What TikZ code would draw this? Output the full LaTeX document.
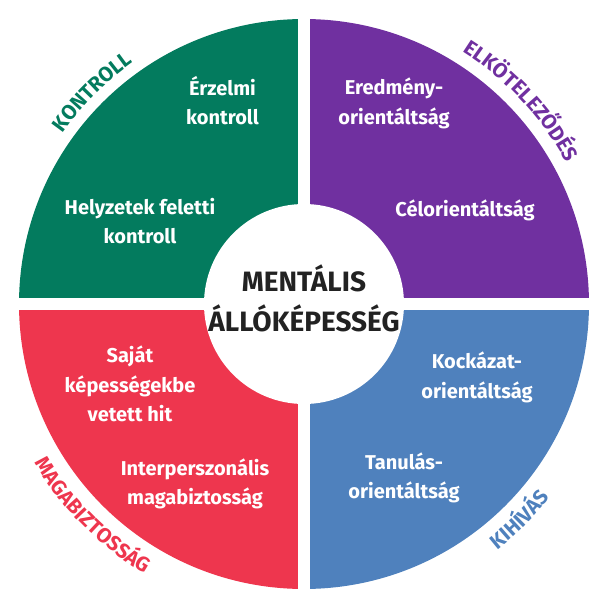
\documentclass[tikz,border=0pt]{standalone}
\usepackage{fontspec}
\setmainfont{Fira Sans}
\usepackage{tikz}
\usetikzlibrary{
  decorations.text
}
\definecolor{MaGreen}{HTML}{037B5E}
\definecolor{MaPurple}{HTML}{7030A0}
\definecolor{MaRed}{HTML}{EE364E}
\definecolor{MaBlue}{HTML}{4F81BD}
\definecolor{MaInk}{HTML}{222222}
\newcommand{\rimfont}{\bfseries\fontsize{15.5}{18}\selectfont}
\tikzset{
  factor/.style = {
    font=\bfseries\fontsize{15}{22}\selectfont,
    text=white,
    align=center,
    inner sep=0pt
  },
  core title/.style = {
    font=\bfseries\fontsize{21}{30}\selectfont,
    text=MaInk,
    align=center,
    inner sep=0pt
  },
  rim label/.style 2 args = {
    decorate,
    decoration = {
      text along path,
      text = {|\rimfont\color{#1}|#2},
      text align = center
    }
  },
}
% corner, base angle, colour
\newcommand{\Quadrant}[3]{%
  \fill[#3] (#1) -- (#2+1.21:285) arc[start angle=#2+1.21, end angle=#2+88.79, radius=285] -- cycle;
}
% start, end, radius, colour, text
\newcommand{\RimLabel}[5]{%
  \path[rim label={#4}{#5}] (#1:#3) arc[start angle=#1, end angle=#2, radius=#3];
}

\begin{document}
\begin{tikzpicture}[x=0.75pt,y=0.75pt]
  \useasboundingbox (-304,-304) rectangle (304,304);

  \Quadrant{-6,6}{90}{MaGreen}
  \Quadrant{6,6}{0}{MaPurple}
  \Quadrant{-6,-6}{180}{MaRed}
  \Quadrant{6,-6}{270}{MaBlue}
  \fill[white] (0,0) circle[radius=100];

  \node[factor] (erzelmi) at (-81.5,203.5) {Érzelmi\\kontroll};
  \node[factor] (helyzet) at (-164,83) {Helyzetek feletti\\kontroll};
  \node[factor] (eredmeny) at (90,200.5) {Eredmény-\\orientáltság};
  \node[factor] (celor) at (161,94) {Célorientáltság};
  \node[factor] (sajat) at (-174,-80) {Saját\\képességekbe\\vetett hit};
  \node[factor] (interp) at (-109,-180) {Interperszonális\\magabiztosság};
  \node[factor] (kockazat) at (173,-73.5) {Kockázat-\\orientáltság};
  \node[factor] (tanulas) at (100,-174) {Tanulás-\\orientáltság};
  \node[core title] (core) at (0,5.5) {MENTÁLIS\\ÁLLÓKÉPESSÉG};

  \RimLabel{175}{95}{296}{MaGreen}{KONTROLL}
  \RimLabel{83}{3}{298}{MaPurple}{ELKÖTELEZŐDÉS}
  \RimLabel{185}{265}{313}{MaRed}{MAGABIZTOSSÁG}
  \RimLabel{-85}{-5}{313}{MaBlue}{KIHÍVÁS}
\end{tikzpicture}
\end{document}
